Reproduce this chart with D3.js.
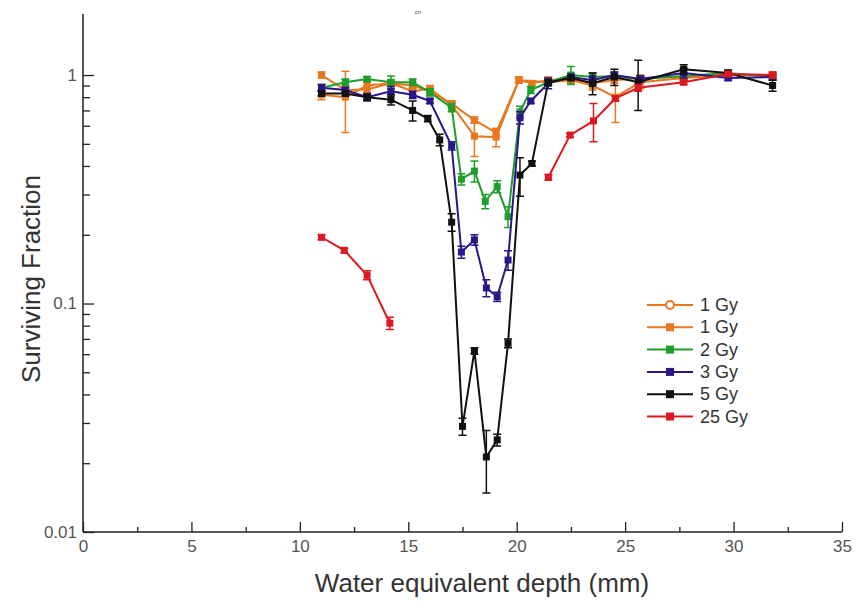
<!DOCTYPE html>
<html>
<head>
<meta charset="utf-8">
<script src="https://cdn.jsdelivr.net/npm/d3@7"></script>
<style>
  body { margin: 0; background: #fff; }
  svg { display: block; }
  text { font-family: "Liberation Sans", Arial, sans-serif; }
</style>
</head>
<body>
<svg id="chart" width="864" height="613"></svg>
<script>
// 1 Gy (open symbols)
const depth1a = [11.0, 12.1, 13.1, 14.2, 15.2, 16.0, 17.0, 18.05, 19.05, 20.1, 21.45, 22.5, 23.5, 24.55, 25.7, 27.7, 29.75, 31.8];
const sf1a    = [0.82, 0.80, 0.90, 0.92, 0.85, 0.87, 0.74, 0.54, 0.535, 0.95, 0.93, 0.95, 0.90, 0.80, 0.93, 0.97, 1.0, 1.0];
const err1a   = [0.04, 0.24, 0.03, 0.03, 0.03, 0.03, 0.02, 0.10, 0.05, 0.03, 0.03, 0.03, 0.04, 0.18, 0.06, 0.03, 0.02, 0.02];
// 1 Gy (filled)
const depth1b = [11.0, 12.1, 13.1, 14.2, 15.2, 16.0, 17.0, 18.05, 19.05, 20.1, 20.7, 21.45, 22.5, 23.5, 24.5, 25.7, 27.7, 29.75, 31.8];
const sf1b    = [1.0, 0.86, 0.865, 0.92, 0.90, 0.85, 0.75, 0.635, 0.56, 0.95, 0.92, 0.95, 0.96, 0.92, 0.95, 0.97, 0.98, 1.0, 1.0];
const err1b   = [0.03, 0.03, 0.03, 0.03, 0.03, 0.03, 0.02, 0.02, 0.02, 0.03, 0.02, 0.03, 0.03, 0.03, 0.03, 0.03, 0.03, 0.02, 0.02];
// 2 Gy
const depth2 = [11.0, 12.1, 13.1, 14.2, 15.2, 16.0, 17.0, 17.45, 18.05, 18.55, 19.1, 19.6, 20.15, 20.65, 21.45, 22.5, 23.5, 24.5, 25.7, 27.7, 29.75, 31.8];
const sf2    = [0.88, 0.93, 0.96, 0.93, 0.93, 0.84, 0.72, 0.35, 0.38, 0.28, 0.325, 0.24, 0.69, 0.86, 0.93, 1.0, 0.98, 0.99, 0.96, 0.99, 1.02, 0.98];
const err2   = [0.03, 0.03, 0.02, 0.06, 0.03, 0.03, 0.03, 0.02, 0.04, 0.02, 0.02, 0.025, 0.04, 0.03, 0.03, 0.09, 0.04, 0.03, 0.03, 0.03, 0.03, 0.03];
// 3 Gy
const depth3 = [11.0, 12.1, 13.1, 14.2, 15.2, 16.0, 17.0, 17.45, 18.05, 18.6, 19.1, 19.6, 20.15, 20.65, 21.45, 22.5, 23.5, 24.5, 25.7, 27.7, 29.75, 31.8];
const sf3    = [0.88, 0.86, 0.80, 0.85, 0.82, 0.77, 0.49, 0.168, 0.19, 0.117, 0.107, 0.155, 0.65, 0.77, 0.92, 0.98, 0.95, 1.0, 0.96, 1.02, 0.97, 0.98];
const err3   = [0.03, 0.02, 0.03, 0.04, 0.03, 0.02, 0.02, 0.01, 0.01, 0.01, 0.005, 0.015, 0.04, 0.02, 0.05, 0.03, 0.04, 0.03, 0.03, 0.05, 0.02, 0.02];
// 5 Gy
const depth5 = [11.0, 12.1, 13.1, 14.2, 15.2, 15.9, 16.45, 17.0, 17.5, 18.05, 18.6, 19.1, 19.6, 20.15, 20.7, 21.45, 22.5, 23.5, 24.5, 25.6, 27.7, 29.75, 31.8];
const sf5    = [0.83, 0.83, 0.80, 0.78, 0.70, 0.645, 0.52, 0.227, 0.029, 0.062, 0.0213, 0.0253, 0.067, 0.365, 0.41, 0.93, 0.97, 0.92, 0.98, 0.93, 1.06, 1.02, 0.90];
const err5   = [0.02, 0.02, 0.02, 0.04, 0.07, 0.02, 0.03, 0.02, 0.0025, 0.002, 0.0065, 0.0015, 0.003, 0.07, 0.01, 0.02, 0.02, 0.1, 0.08, 0.23, 0.05, 0.03, 0.05];
// 25 Gy, two separate runs
const depth25a = [11.0, 12.05, 13.1, 14.15];
const sf25a    = [0.195, 0.171, 0.133, 0.082];
const err25a   = [0.005, 0.004, 0.006, 0.005];
const depth25b = [21.46, 22.46, 23.54, 24.55, 25.6, 27.7, 29.75, 31.8];
const sf25b    = [0.357, 0.546, 0.63, 0.79, 0.88, 0.93, 1.01, 1.0];
const err25b   = [0.01, 0.01, 0.12, 0.02, 0.03, 0.02, 0.02, 0.03];

const xTicks = [0, 5, 10, 15, 20, 25, 30, 35];
const yTicks = [0.01, 0.1, 1];

const zip = (xs, ys, es) => xs.map((d, i) => ({x: d, y: ys[i], e: es[i]}));

const series = [
  {name: "1 Gy", color: "#e8781e", open: true, parts: [zip(depth1a, sf1a, err1a)]},
  {name: "1 Gy", color: "#e8781e", parts: [zip(depth1b, sf1b, err1b)]},
  {name: "2 Gy", color: "#1f9e2c", parts: [zip(depth2, sf2, err2)]},
  {name: "3 Gy", color: "#2a1688", parts: [zip(depth3, sf3, err3)]},
  {name: "5 Gy", color: "#111111", parts: [zip(depth5, sf5, err5)]},
  {name: "25 Gy", color: "#dc1820", parts: [zip(depth25a, sf25a, err25a), zip(depth25b, sf25b, err25b)]}
];

const svg = d3.select("#chart");

const x = d3.scaleLinear().domain([0, 35]).range([83, 842]);
const y = d3.scaleLog().domain([0.01, 1.85]).range([532, 14]);

// minor ticks
const xMinor = d3.range(2.5, 35, 5);
const yMinor = [];
[0.01, 0.1].forEach(b => { for (let k = 2; k <= 9; k++) yMinor.push(b * k); });

svg.append("g")
    .attr("transform", "translate(0,532)")
    .call(d3.axisBottom(x).tickValues(xMinor).tickSize(-5).tickFormat("").tickSizeOuter(0))
    .call(g => g.select(".domain").remove())
    .selectAll("line").attr("stroke", "#222").attr("stroke-width", 1.3);

svg.append("g")
    .attr("transform", "translate(83,0)")
    .call(d3.axisLeft(y).tickValues(yMinor).tickSize(-7).tickFormat("").tickSizeOuter(0))
    .call(g => g.select(".domain").remove())
    .selectAll("line").attr("stroke", "#222").attr("stroke-width", 1.3);

const xAxis = svg.append("g")
    .attr("transform", "translate(0,532)")
    .call(d3.axisBottom(x).tickValues(xTicks).tickSize(-10).tickSizeOuter(0).tickPadding(8));

const yAxis = svg.append("g")
    .attr("transform", "translate(83,0)")
    .call(d3.axisLeft(y).tickValues(yTicks).tickSize(-11).tickSizeOuter(0).tickPadding(6)
      .tickFormat(d => d3.format("~g")(d)));

[xAxis, yAxis].forEach(g => {
  g.select(".domain").attr("stroke", "#222").attr("stroke-width", 1.5);
  g.selectAll(".tick line").attr("stroke", "#222").attr("stroke-width", 1.3);
  g.selectAll(".tick text").attr("fill", "#555").style("font-size", "17px");
});
yAxis.select(".domain").attr("d", "M0,532V14");
xAxis.select(".domain").attr("d", "M83,0H842");

// axis titles
svg.append("text")
    .attr("x", 482).attr("y", 592)
    .attr("text-anchor", "middle")
    .attr("fill", "#333")
    .style("font-size", "26px")
    .text("Water equivalent depth (mm)");

svg.append("text")
    .attr("transform", "translate(40,279) rotate(-90)")
    .attr("text-anchor", "middle")
    .attr("fill", "#333")
    .style("font-size", "26px")
    .text("Surviving Fraction");

svg.append("text")
    .attr("x", 418).attr("y", 14)
    .attr("text-anchor", "middle")
    .attr("fill", "#444")
    .style("font-size", "6px")
    .text("cn");

const line = d3.line().x(d => x(d.x)).y(d => y(d.y));
const plot = svg.append("g");

series.forEach(s => {
  const g = plot.append("g");
  s.parts.forEach(pts => {
    g.append("path")
        .attr("d", line(pts))
        .attr("fill", "none")
        .attr("stroke", s.color)
        .attr("stroke-width", 2);

    // error bars
    pts.forEach(d => {
      const lo = y(Math.max(d.y - d.e, 0.011)), hi = y(d.y + d.e), cx = x(d.x);
      g.append("path")
          .attr("d", `M${cx},${lo}V${hi}M${cx - 4},${lo}H${cx + 4}M${cx - 4},${hi}H${cx + 4}`)
          .attr("fill", "none")
          .attr("stroke", s.color)
          .attr("stroke-width", 1.5);
    });

    // markers (the open series is hidden under the others in the plot)
    g.selectAll(null)
        .data(pts)
        .enter().append("rect")
        .attr("x", d => x(d.x) - 3.5)
        .attr("y", d => y(d.y) - 3.5)
        .attr("width", 7).attr("height", 7)
        .attr("fill", s.color);
  });
});

// legend
const legend = svg.append("g").attr("transform", "translate(647,305)");
series.forEach((s, i) => {
  const row = legend.append("g").attr("transform", `translate(0,${i * 22.3})`);
  row.append("line")
      .attr("x1", 0).attr("x2", 46)
      .attr("stroke", s.color).attr("stroke-width", 2);
  if (s.open) {
    row.append("circle").attr("cx", 23).attr("r", 4)
        .attr("fill", "#fff").attr("stroke", s.color).attr("stroke-width", 2);
  } else {
    row.append("rect").attr("x", 19).attr("y", -4).attr("width", 8).attr("height", 8)
        .attr("fill", s.color);
  }
  row.append("text")
      .attr("x", 53).attr("y", 6)
      .attr("fill", "#333")
      .style("font-size", "18px")
      .text(s.name);
});
</script>
</body>
</html>
